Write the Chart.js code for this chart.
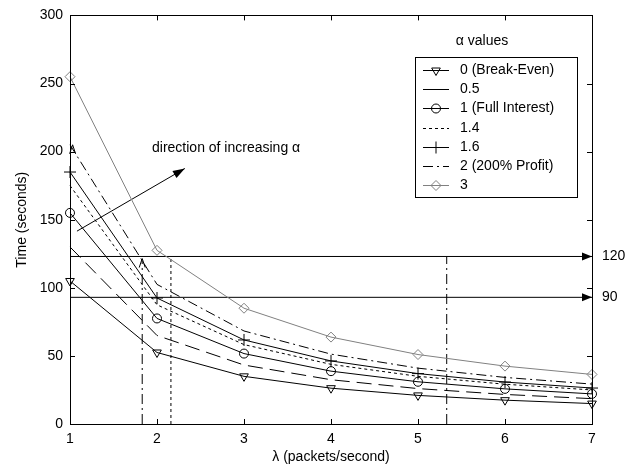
<!DOCTYPE html>
<html>
<head>
<meta charset="utf-8">
<script src="https://cdn.jsdelivr.net/npm/chart.js@4.4.0/dist/chart.umd.min.js"></script>
<style>
  html, body { margin: 0; padding: 0; background: #fff; }
  #wrap { width: 636px; height: 469px; }
</style>
</head>
<body>
<div id="wrap"><canvas id="chart" width="636" height="469"></canvas></div>
<script>
// packet rate on the x axis
const lambdas = [1, 2, 3, 4, 5, 6, 7];

// time (seconds) for each alpha value
const timeA0 = [105, 52.5, 35, 26.3, 21, 17.5, 15];
const timeA05 = [130, 65, 43.3, 32.5, 26, 21.7, 18.6];
const timeA1 = [155, 77.5, 51.7, 38.8, 31, 25.8, 22.1];
const timeA14 = [175, 87.5, 58.3, 43.8, 35, 29.2, 25];
const timeA16 = [185, 92.5, 61.7, 46.3, 37, 30.8, 26.4];
const timeA2 = [205, 102.5, 68.3, 51.3, 41, 34.2, 29.3];
const timeA3 = [255, 127.5, 85, 63.8, 51, 42.5, 36.4];

const alphaLabels = ['0 (Break-Even)', '0.5', '1 (Full Interest)', '1.4', '1.6', '2 (200% Profit)', '3'];

const xTicks = [1, 2, 3, 4, 5, 6, 7];
const yTicks = [0, 50, 100, 150, 200, 250, 300];

// horizontal reference lines and their labels
const refLevels = [123, 93];
const refLabels = ['120', '90'];

// vertical guide lines: lambda and top value
const guideLambdas = [1.83, 2.16, 5.33];
const guideTops = [120, 123, 123];

// "direction of increasing alpha" arrow, start and end
const dirArrowX = [1.08, 2.32];
const dirArrowY = [141.6, 187.6];

const FONT = "'Liberation Sans', Arial, sans-serif";
const DASH_DOT = [10, 4, 2, 4];

function pts(xs, ys) {
  return xs.map((x, i) => ({ x: x, y: ys[i] }));
}

const seriesStyle = [
  { data: timeA0, color: '#000', dash: [], point: 'triangle', rot: 180, r: 5 },
  { data: timeA05, color: '#000', dash: [15, 7], legendDash: [], point: false, r: 0 },
  { data: timeA1, color: '#000', dash: [], point: 'circle', r: 4.5 },
  { data: timeA14, color: '#000', dash: [3, 3], point: false, r: 0 },
  { data: timeA16, color: '#000', dash: [], point: 'cross', r: 6 },
  { data: timeA2, color: '#000', dash: DASH_DOT, point: false, r: 0 },
  { data: timeA3, color: '#808080', dash: [], point: 'rectRot', r: 5 }
];

const datasets = seriesStyle.map((s, i) => ({
  label: alphaLabels[i],
  data: pts(lambdas, s.data),
  borderColor: s.color,
  borderWidth: 1,
  borderDash: s.dash,
  legendDash: s.legendDash,
  pointStyle: s.point,
  pointRotation: s.rot || 0,
  pointRadius: s.r,
  pointBorderColor: s.color,
  pointBackgroundColor: 'rgba(0,0,0,0)',
  pointBorderWidth: 1,
  tension: 0,
  clip: false,
  isSeries: true
}));

// reference lines as plain line datasets
refLevels.forEach(v => {
  datasets.push({
    data: [{ x: 1, y: v }, { x: 7, y: v }],
    borderColor: '#000', borderWidth: 1, pointRadius: 0
  });
});
const guideDash = [DASH_DOT, [3, 3], DASH_DOT];
guideLambdas.forEach((g, i) => {
  datasets.push({
    data: [{ x: g, y: 0 }, { x: g, y: guideTops[i] }],
    borderColor: '#000', borderWidth: 1, pointRadius: 0, borderDash: guideDash[i]
  });
});
datasets.push({
  data: pts(dirArrowX, dirArrowY),
  borderColor: '#000', borderWidth: 1, pointRadius: 0
});

function arrowHead(ctx, x1, y1, x2, y2, len, half) {
  const a = Math.atan2(y2 - y1, x2 - x1);
  ctx.beginPath();
  ctx.moveTo(x2, y2);
  ctx.lineTo(x2 - len * Math.cos(a) + half * Math.sin(a), y2 - len * Math.sin(a) - half * Math.cos(a));
  ctx.lineTo(x2 - len * Math.cos(a) - half * Math.sin(a), y2 - len * Math.sin(a) + half * Math.cos(a));
  ctx.closePath();
  ctx.fill();
}

function caret(ctx, x, y) {
  ctx.beginPath();
  ctx.moveTo(x - 3, y + 9);
  ctx.lineTo(x, y);
  ctx.lineTo(x + 3, y + 9);
  ctx.stroke();
}

const decorations = {
  id: 'decorations',
  afterDatasetsDraw(chart) {
    const ctx = chart.ctx;
    const xs = chart.scales.x, ys = chart.scales.y;
    const a = chart.chartArea;
    ctx.save();
    ctx.strokeStyle = '#000';
    ctx.fillStyle = '#000';
    ctx.lineWidth = 1;
    ctx.setLineDash([]);

    // box
    ctx.strokeRect(Math.round(a.left) + 0.5, Math.round(a.top) + 0.5,
      Math.round(a.right - a.left), Math.round(a.bottom - a.top));

    // inward ticks on all sides
    ctx.beginPath();
    xTicks.forEach(v => {
      const px = Math.round(xs.getPixelForValue(v)) + 0.5;
      ctx.moveTo(px, a.bottom); ctx.lineTo(px, a.bottom - 5);
      ctx.moveTo(px, a.top); ctx.lineTo(px, a.top + 5);
    });
    yTicks.forEach(v => {
      const py = Math.round(ys.getPixelForValue(v)) + 0.5;
      ctx.moveTo(a.left, py); ctx.lineTo(a.left + 5, py);
      ctx.moveTo(a.right, py); ctx.lineTo(a.right - 5, py);
    });
    ctx.stroke();

    // arrowheads on reference lines and their labels
    ctx.font = '14px ' + FONT;
    ctx.textBaseline = 'middle';
    ctx.textAlign = 'left';
    refLevels.forEach((v, i) => {
      const py = ys.getPixelForValue(v);
      arrowHead(ctx, a.left, py, a.right, py, 10, 4);
      ctx.fillText(refLabels[i], a.right + 10, py);
    });

    // direction arrow head and text
    arrowHead(ctx,
      xs.getPixelForValue(dirArrowX[0]), ys.getPixelForValue(dirArrowY[0]),
      xs.getPixelForValue(dirArrowX[1]), ys.getPixelForValue(dirArrowY[1]), 12, 4);
    ctx.fillText('direction of increasing \u03b1', 152, 148);

    // small open carets
    caret(ctx, xs.getPixelForValue(guideLambdas[0]), ys.getPixelForValue(guideTops[0]) - 2);
    caret(ctx, xs.getPixelForValue(1.03), ys.getPixelForValue(205));

    // legend
    ctx.textAlign = 'center';
    ctx.fillText('\u03b1 values', 482, 41);
    ctx.fillStyle = '#fff';
    ctx.fillRect(415, 57, 162, 140);
    ctx.strokeRect(415.5, 57.5, 162, 140);
    ctx.textAlign = 'left';
    chart.data.datasets.filter(d => d.isSeries).forEach((d, i) => {
      const y = Math.round(70 + i * 19.2) + 0.5;
      ctx.strokeStyle = d.borderColor;
      ctx.setLineDash(d.legendDash || d.borderDash);
      ctx.beginPath();
      ctx.moveTo(423, y); ctx.lineTo(449, y);
      ctx.stroke();
      ctx.setLineDash([]);
      if (d.pointStyle) {
        ctx.fillStyle = 'rgba(0,0,0,0)';
        Chart.helpers.drawPoint(ctx, {
          pointStyle: d.pointStyle, radius: d.pointRadius,
          rotation: d.pointRotation, borderWidth: 1
        }, 436, y);
      }
      ctx.fillStyle = '#000';
      ctx.fillText(d.label, 460, y);
    });
    ctx.restore();
  }
};

new Chart(document.getElementById('chart'), {
  type: 'line',
  data: { datasets: datasets },
  options: {
    responsive: false,
    animation: false,
    devicePixelRatio: 1,
    layout: { padding: { top: 13, right: 44, bottom: 0, left: 0 } },
    plugins: { legend: { display: false }, tooltip: { enabled: false } },
    scales: {
      x: {
        type: 'linear', min: 1, max: 7,
        afterFit: s => { s.height = 45; },
        afterBuildTicks: s => { s.ticks = xTicks.map(v => ({ value: v })); },
        grid: { display: false, drawTicks: false },
        border: { display: false },
        ticks: { color: '#000', font: { family: FONT, size: 14 }, padding: 7, maxRotation: 0 },
        title: { display: true, text: '\u03bb (packets/second)', color: '#000',
          font: { family: FONT, size: 14 }, padding: { top: 0, bottom: 3 } }
      },
      y: {
        type: 'linear', min: 0, max: 300,
        afterFit: s => { s.width = 70; },
        afterBuildTicks: s => { s.ticks = yTicks.map(v => ({ value: v })); },
        grid: { display: false, drawTicks: false },
        border: { display: false },
        ticks: { color: '#000', font: { family: FONT, size: 14 }, padding: 7 },
        title: { display: true, text: 'Time (seconds)', color: '#000',
          font: { family: FONT, size: 14 }, padding: { top: 14, bottom: 0 } }
      }
    }
  },
  plugins: [decorations]
});
</script>
</body>
</html>
